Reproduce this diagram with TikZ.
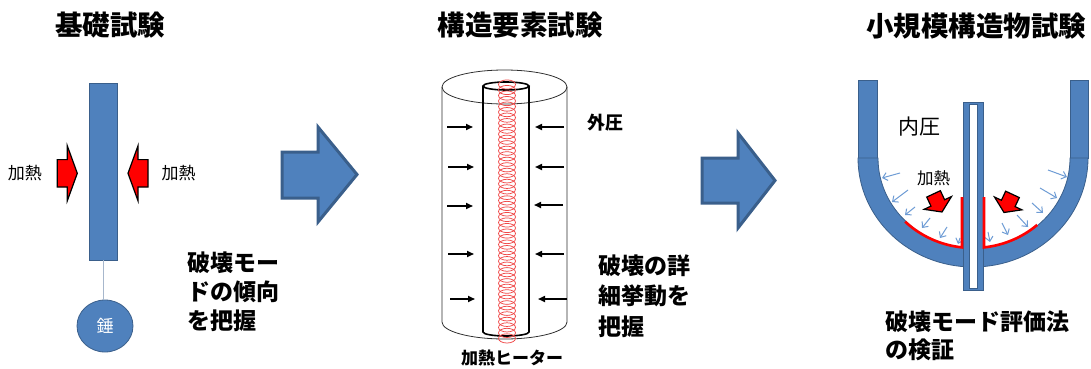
\documentclass[tikz,border=0pt]{standalone}
\usepackage{fontspec}
\setmainfont{Noto Sans CJK JP}
\usetikzlibrary{arrows.meta,shapes.geometric}
\definecolor{fillblue}{HTML}{4F81BD}
\definecolor{edgeblue}{HTML}{3A5F8B}
\definecolor{pressblue}{HTML}{6E9CD5}
\definecolor{coilred}{HTML}{F04848}
\definecolor{hangline}{HTML}{A7B7CC}
\definecolor{tubegray}{HTML}{303030}

\begin{document}
\begin{tikzpicture}[x=1pt,y=-1pt,
  bluepart/.style={fill=fillblue,draw=edgeblue,line width=0.8pt},
  flowarrow/.style={fill=fillblue,draw=edgeblue,line width=3pt,line join=miter},
  heatarrow/.style={fill=red,draw=black,line width=1.2pt,line join=miter},
  title/.style={font=\fontsize{27.5}{30}\selectfont\bfseries,inner sep=0pt},
  note/.style={font=\fontsize{23}{29}\selectfont\bfseries,align=left,inner sep=0pt,anchor=west},
  tag/.style={inner sep=0pt},
  push/.style={draw=black,line width=1.6pt,-{Triangle[length=7pt,width=6pt]}},
  pressure/.style={draw=pressblue,line width=1pt,-{Straight Barb[length=4.5pt,width=8pt]}},
  crack/.style={draw=red,line width=2.6pt},
  tube/.style={draw=tubegray,line width=0.8pt},
  innertube/.style={draw=black,line width=1.6pt},
  pics/heat/.style={code={
    \filldraw[heatarrow] (-20,-13.7) -- (-10,-13.7) -- (-10,-27.5) -- (0,0)
      -- (-10,27.5) -- (-10,13.7) -- (-20,13.7) -- cycle;
  }},
]
\useasboundingbox (0,0) rectangle (1091,369);
\fill[white] (0,0) rectangle (1091,369);

% ---------- titles ----------
\node[title] (t1) at (110,25) {基礎試験};
\node[title] (t2) at (520,25) {構造要素試験};
\node[title] (t3) at (976,26) {小規模構造物試験};

% ---------- basic test: loaded bar heated from both sides ----------
\node[rectangle,bluepart,minimum width=28pt,minimum height=177pt,inner sep=0pt] (bar) at (103,171.5) {};
\node[ellipse,bluepart,minimum width=56pt,minimum height=52pt,inner sep=0pt,
      text=white,font=\fontsize{17}{17}\selectfont] (weight) at (105,326) {錘};
\draw[hangline,line width=1pt] (bar.south) -- (bar.south |- weight.north);
\pic at (77.3,173.3) {heat};
\pic[rotate=180] at (128,173.3) {heat};
\node[tag,font=\fontsize{17}{17}\selectfont] (heatL) at (25,173) {加熱};
\node[tag,font=\fontsize{17}{17}\selectfont] (heatR) at (178.5,173) {加熱};
\node[note] (n1) at (187,292) {破壊モー\\ドの傾向\\を把握};

% ---------- flow arrows ----------
\filldraw[flowarrow] (282,152) -- (318,152) -- (318,127) -- (357,174.5)
  -- (318,222) -- (318,198) -- (282,198) -- cycle;
\filldraw[flowarrow] (702,158) -- (738,158) -- (738,133) -- (775,180.5)
  -- (738,228) -- (738,203) -- (702,203) -- cycle;

% ---------- structural element test: tube under external pressure ----------
% outer cylinder
\draw[tube] (504.5,87) ellipse [x radius=62.5, y radius=17];
\draw[tube] (442,87) -- (442,322) arc[start angle=180, end angle=0, x radius=62.5, y radius=17] -- (567,87);
% inner tube
\draw[innertube] (506,86) ellipse [x radius=23, y radius=4];
\draw[innertube] (483,86) -- (483,332) arc[start angle=180, end angle=0, x radius=23, y radius=4] -- (529,86);
% heater coil
\foreach \k in {0,...,46}
  \draw[coilred,line width=0.75pt] (507,{84.5+5.52*\k}) ellipse [x radius=8.5, y radius=4.6];
% external pressure arrows
\foreach \ya/\xa/\xb in {127/447/473, 167/448/474, 206/447/473, 254/448/474, 299/450/475}
  \draw[push] (\xa,\ya) -- (\xb,\ya);
\foreach \ya/\xa/\xb in {127/564/535, 167/564/535, 205/563/534, 254/564/535, 299/567/538}
  \draw[push] (\xa,\ya) -- (\xb,\ya);
\node[tag,font=\fontsize{18}{18}\selectfont\bfseries] (ext) at (605,123) {外圧};
\node[tag,font=\fontsize{17}{17}\selectfont\bfseries] (heater) at (512,358) {加熱ヒーター};
\node[note,font=\fontsize{23}{30.5}\selectfont\bfseries] (n2) at (598,296) {破壊の詳\\細挙動を\\把握};

% ---------- small structure test: vessel with penetrating pipe ----------
\filldraw[bluepart] (858,80) rectangle (877,158);
\filldraw[bluepart] (1070,80) rectangle (1088,158);
\filldraw[bluepart] (858,158) arc[start angle=180, end angle=0, x radius=115, y radius=109]
  -- (1070,158) arc[start angle=0, end angle=180, x radius=96, y radius=90] -- cycle;
% internal pressure arrows
\foreach \xa/\ya/\xb/\yb in {900/173/882/178, 908/190/892/202, 915/207/905/215,
                              930/218/922/228, 947/227/940/238, 960/238/958/244,
                              1048/170/1067/177, 1040/188/1057/198, 1032/203/1043/213,
                              1017/215/1028/227, 1002/223/1008/235, 988/232/990/242}
  \draw[pressure] (\xa,\ya) -- (\xb,\yb);
% pipe
\filldraw[bluepart] (963,102) rectangle (983,290);
\filldraw[fill=white,draw=edgeblue,line width=0.8pt] (969,104) rectangle (977,288);
% crack zones
\draw[crack] (962,197) -- (962,247.4) arc[start angle=96.6, end angle=135, x radius=96, y radius=90];
\draw[crack] (984,197) -- (984,247.4) arc[start angle=83.4, end angle=48, x radius=96, y radius=90];
% heating
\pic[rotate=-65,yscale=0.55] at (942,212) {heat};
\pic[rotate=-115,yscale=0.55] at (1004,212.5) {heat};
\node[tag,font=\fontsize{16.5}{16.5}\selectfont] (heat3) at (933.5,178) {加熱};
\node[tag,font=\fontsize{21}{21}\selectfont] (inner) at (919,127) {内圧};
\node[note,font=\fontsize{23}{28}\selectfont\bfseries] (n3) at (885,336) {破壊モード評価法\\の検証};
\end{tikzpicture}
\end{document}
